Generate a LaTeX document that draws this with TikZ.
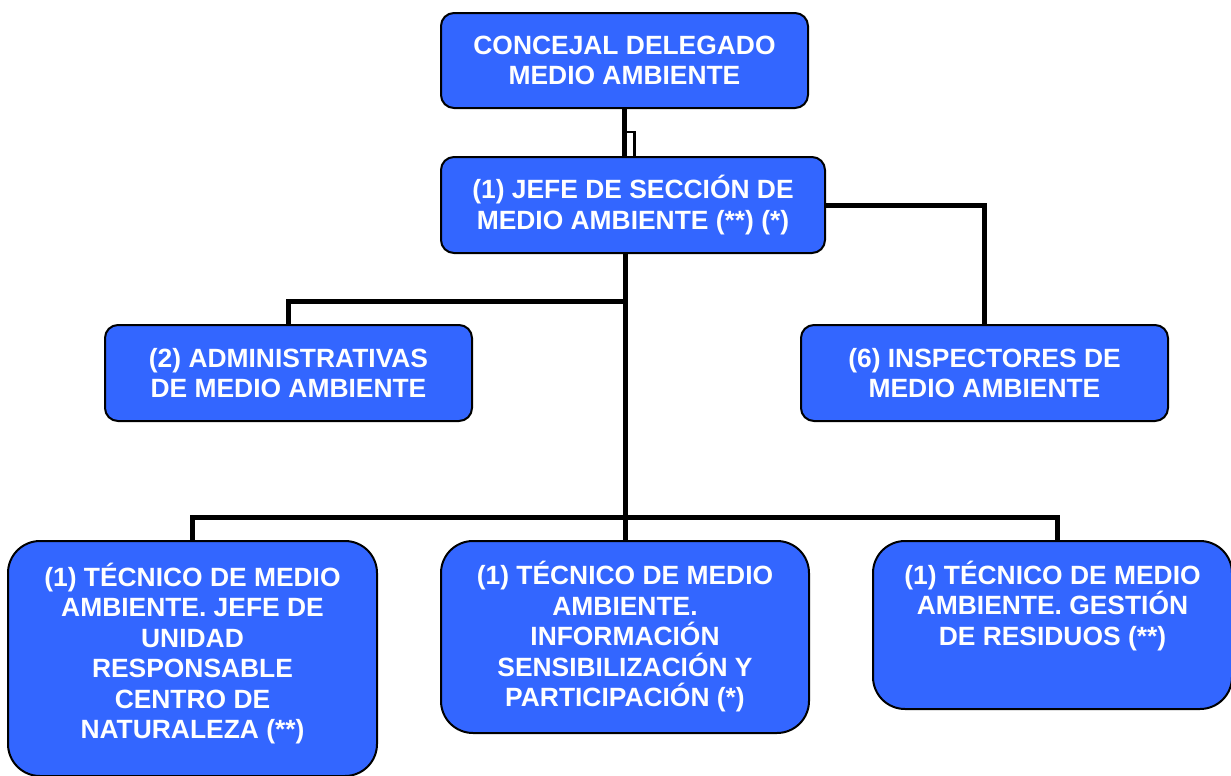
\documentclass[tikz,border=0pt]{standalone}
\usepackage{fontspec}
\setmainfont{Liberation Sans}
\usetikzlibrary{positioning}
\definecolor{azulcargo}{HTML}{3366FF}

\begin{document}
\begin{tikzpicture}[x=0.5pt, y=-0.5pt, node distance=1cm]
\tikzstyle{cargo} = [rectangle, rounded corners=6.5pt, minimum width=183.5pt, minimum height=48pt,
                    align=center, draw=black, line width=1pt, fill=azulcargo, text=white,
                    font=\fontsize{13.2}{15.25}\selectfont\bfseries, inner sep=0pt, outer sep=0pt]
\tikzstyle{tecnico} = [cargo, rounded corners=16pt]
\tikzstyle{linea} = [line width=2.5pt, black]
\useasboundingbox (0,0) rectangle (1231,776);
\node (concejal) [cargo, minimum height=47.5pt] at (624.5,60.5) {CONCEJAL DELEGADO\\MEDIO AMBIENTE};
\node (jefe) [cargo, minimum width=192pt, below=24.5pt of concejal.south west, anchor=north west] {(1) JEFE DE SECCIÓN DE\\MEDIO AMBIENTE (**) (*)};
\node (admin) [cargo] at (288.5,373) {(2) ADMINISTRATIVAS\\DE MEDIO AMBIENTE};
\node (insp) [cargo, right=164.5pt of admin] {(6) INSPECTORES DE\\MEDIO AMBIENTE};
\node (tecmid) [tecnico, minimum width=184pt, minimum height=96pt] at (625,637) {(1) TÉCNICO DE MEDIO\\AMBIENTE.\\INFORMACIÓN\\SENSIBILIZACIÓN Y\\PARTICIPACIÓN (*)};
\node (tecizq) [tecnico, minimum width=184.5pt, minimum height=117.5pt, left=32pt of tecmid.north west, anchor=north east] {(1) TÉCNICO DE MEDIO\\AMBIENTE. JEFE DE\\UNIDAD\\RESPONSABLE\\CENTRO DE\\NATURALEZA (**)\\[-7.5pt]\mbox{}};
\node (tecder) [tecnico, minimum width=179.5pt, minimum height=84pt, right=32pt of tecmid.north east, anchor=north west] {(1) TÉCNICO DE MEDIO\\AMBIENTE. GESTIÓN\\DE RESIDUOS (**)\\[6.7pt]\mbox{}};
\coordinate (eje) at (625.5,517);
\coordinate (ramaA) at (625.5,301);
\coordinate (codo) at (634.5,132);
\coordinate (ramaD) at (1057,517);
\draw [linea] (concejal.south) -- (concejal.south |- jefe.north);
\draw [line width=1.2pt] (concejal.south |- codo) -- (codo) -- (codo |- jefe.north);
\draw [linea] (jefe.south -| eje) -- (eje);
\draw [linea] (ramaA) -| (admin.north);
\draw [linea] (jefe.east) -| (insp.north);
\draw [linea] (tecizq.north) |- (ramaD) -- (tecder.north -| ramaD);
\draw [linea] (eje) -- (tecmid.north -| eje);
\end{tikzpicture}
\end{document}
